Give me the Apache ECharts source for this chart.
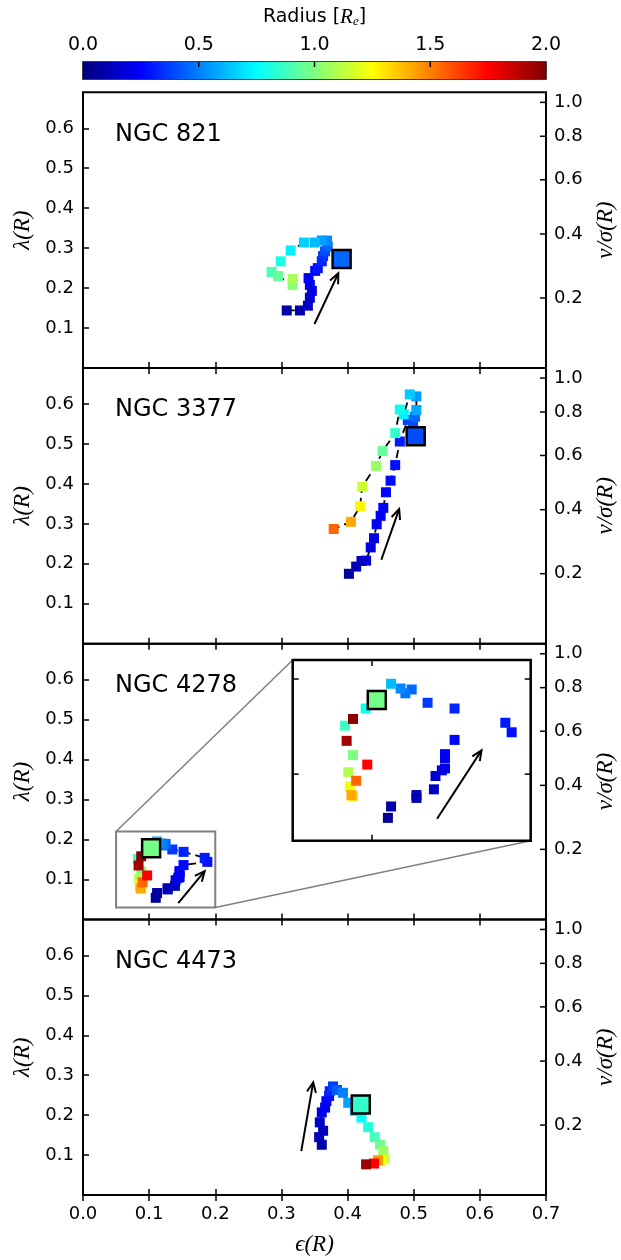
<!DOCTYPE html>
<html><head><meta charset="utf-8">
<script src="https://cdn.jsdelivr.net/npm/echarts@6/dist/echarts.min.js"></script>
<style>html,body{margin:0;padding:0;background:#fff}#c{width:621px;height:1260px}</style>
</head><body><div id="c"></div>
<script>
// ---------- data ----------
const galaxies = ['NGC 821', 'NGC 3377', 'NGC 4278', 'NGC 4473'];
const xTicks = [0, 0.1, 0.2, 0.3, 0.4, 0.5, 0.6, 0.7];
const lamTicks = [0.1, 0.2, 0.3, 0.4, 0.5, 0.6];
const vsTicks = [0.2, 0.4, 0.6, 0.8, 1.0];
const cbTicks = [0, 0.5, 1.0, 1.5, 2.0];
const KAPPA = 0.89;

const n821Eps = [0.308,0.328,0.340,0.343,0.346,0.343,0.341,0.351,0.355,0.361,0.363,0.366,0.370,0.369,0.361,0.350,0.334,0.314,0.299,0.285,0.295,0.317,0.317];
const n821Lam = [0.144,0.144,0.156,0.176,0.193,0.208,0.225,0.243,0.250,0.267,0.280,0.292,0.304,0.319,0.319,0.314,0.314,0.294,0.267,0.240,0.230,0.208,0.223];
const n821Rad = [0.08,0.10,0.13,0.16,0.19,0.21,0.23,0.26,0.29,0.32,0.35,0.40,0.45,0.52,0.56,0.62,0.66,0.72,0.80,0.90,0.95,1.02,1.08];

const n3377Eps = [0.402,0.413,0.421,0.428,0.435,0.440,0.444,0.450,0.454,0.458,0.465,0.472,0.479,0.491,0.499,0.502,0.504,0.504,0.494,0.485,0.479,0.472,0.453,0.443,0.422,0.419,0.405,0.379];
const n3377Lam = [0.175,0.193,0.207,0.208,0.241,0.264,0.299,0.320,0.340,0.379,0.408,0.447,0.506,0.560,0.548,0.568,0.585,0.619,0.624,0.574,0.586,0.527,0.482,0.445,0.393,0.344,0.305,0.287];
const n3377Rad = [0.06,0.10,0.13,0.15,0.18,0.20,0.22,0.24,0.25,0.26,0.27,0.28,0.30,0.38,0.40,0.45,0.58,0.55,0.65,0.72,0.78,0.85,0.95,1.05,1.15,1.27,1.42,1.55];

const n4278Eps = [0.110,0.112,0.128,0.128,0.139,0.140,0.144,0.146,0.146,0.146,0.152,0.188,0.184,0.152,0.135,0.125,0.121,0.118,0.112,0.096,0.083,0.088,0.085,0.086,0.088,0.087,0.090,0.097,0.084,0.088];
const n4278Lam = [0.054,0.066,0.075,0.078,0.084,0.098,0.104,0.106,0.117,0.121,0.136,0.144,0.154,0.169,0.175,0.189,0.185,0.190,0.195,0.169,0.151,0.120,0.102,0.087,0.077,0.078,0.093,0.110,0.135,0.158];
const n4278Rad = [0.05,0.08,0.10,0.11,0.13,0.16,0.19,0.20,0.22,0.24,0.26,0.28,0.30,0.32,0.36,0.45,0.48,0.52,0.62,0.78,0.87,1.00,1.10,1.22,1.30,1.42,1.55,1.75,1.93,1.97];

const n4473Eps = [0.361,0.357,0.363,0.358,0.361,0.366,0.368,0.372,0.373,0.378,0.384,0.393,0.401,0.411,0.421,0.431,0.441,0.449,0.454,0.456,0.451,0.446,0.440,0.428];
const n4473Lam = [0.126,0.145,0.161,0.182,0.207,0.219,0.235,0.248,0.260,0.272,0.263,0.256,0.231,0.211,0.194,0.170,0.145,0.126,0.110,0.092,0.085,0.087,0.079,0.077];
const n4473Rad = [0.08,0.10,0.12,0.15,0.20,0.22,0.25,0.28,0.32,0.37,0.43,0.50,0.57,0.68,0.75,0.82,0.88,0.97,1.05,1.12,1.25,1.45,1.75,1.95];

// large squares (global values)
const bigEps = [0.391, 0.503, 0.103, 0.420];
const bigLam = [0.273, 0.519, 0.178, 0.227];
const bigRad = [0.45, 0.40, 0.98, 0.85];

// arrows (data coords)
const arrowTail = [[0.350,0.110],[0.451,0.210],[0.144,0.041],[0.330,0.110]];
const arrowHead = [[0.386,0.237],[0.478,0.337],[0.184,0.121],[0.348,0.282]];
const insetArrowTail = [0.141,0.053];
const insetArrowHead = [0.169,0.125];

// inset (NGC 4278 zoom)
const insetX = [0.05, 0.20];
const insetY = [0.03, 0.22];
const insetXTicks = [0.1];
const insetYTicks = [0.1, 0.2];

const epsArr = [n821Eps, n3377Eps, n4278Eps, n4473Eps];
const lamArr = [n821Lam, n3377Lam, n4278Lam, n4473Lam];
const radArr = [n821Rad, n3377Rad, n4278Rad, n4473Rad];

// ---------- layout ----------
const jet = ['#00007f','#0000ff','#007fff','#00ffff','#7fff7f','#ffff00','#ff7f00','#ff0000','#7f0000'];
const GL = 83, GW = 463, GT0 = 92.3, GH = 275.7;
const XR = [0, 0.7], YR = [0, 0.69];
const tickFont = {fontFamily:'DejaVu Sans', fontSize:18, color:'#000'};
const mathFont = {fontFamily:'Liberation Serif', fontStyle:'italic', fontSize:23, color:'#000'};
const lam2vs = l => l / (KAPPA * Math.sqrt(1 - l*l));
const vs2lam = v => KAPPA*v / Math.sqrt(1 + KAPPA*KAPPA*v*v);
const vsLam = vsTicks.map(vs2lam);
const isTenth = v => Math.abs(v*10 - Math.round(v*10)) < 1e-6;

const grids = [], xAxes = [], yAxes = [], series = [], scatterIdx = [];
const zip = (e, l, r) => e.map((v, i) => r ? [v, l[i], r[i]] : [v, l[i]]);

function arrowRender(params, api) {
  const p0 = api.coord([api.value(0), api.value(1)]);
  const p1 = api.coord([api.value(2), api.value(3)]);
  const ang = Math.atan2(p1[1]-p0[1], p1[0]-p0[0]);
  const L = 11, a = 0.42;
  const h1 = [p1[0]-L*Math.cos(ang-a), p1[1]-L*Math.sin(ang-a)];
  const h2 = [p1[0]-L*Math.cos(ang+a), p1[1]-L*Math.sin(ang+a)];
  return {type:'group', children:[
    {type:'line', shape:{x1:p0[0],y1:p0[1],x2:p1[0],y2:p1[1]}, style:{stroke:'#000', lineWidth:2}},
    {type:'polyline', shape:{points:[h1,p1,h2]}, style:{stroke:'#000', lineWidth:2, fill:null}}
  ]};
}

// inward ticks drawn through the axes' own scales
function tickSeries(xi, yi, xr, yr, spec, len) {
  return {type:'custom', xAxisIndex:xi, yAxisIndex:yi, silent:true, z:6, data:[[xr[0], yr[0]]],
    renderItem:(p, api) => {
      const ch = [];
      const ln = (x1,y1,x2,y2) => ch.push({type:'line', shape:{x1,y1,x2,y2}, style:{stroke:'#000', lineWidth:1.5}});
      (spec.bottom||[]).forEach(v => { const q = api.coord([v, yr[0]]); ln(q[0], q[1], q[0], q[1]-len); });
      (spec.top||[]).forEach(v => { const q = api.coord([v, yr[1]]); ln(q[0], q[1], q[0], q[1]+len); });
      (spec.left||[]).forEach(v => { const q = api.coord([xr[0], v]); ln(q[0], q[1], q[0]+len, q[1]); });
      (spec.right||[]).forEach(v => { const q = api.coord([xr[1], v]); ln(q[0], q[1], q[0]-len, q[1]); });
      return {type:'group', children:ch};
    }};
}

function addPanelSeries(xi, yi, e, l, r, bi, tail, head) {
  series.push({type:'line', xAxisIndex:xi, yAxisIndex:yi, data:zip(e,l), symbol:'none', silent:true, z:2,
    lineStyle:{color:'#000', width:1.8, type:[8,5]}});
  scatterIdx.push(series.length);
  series.push({type:'scatter', xAxisIndex:xi, yAxisIndex:yi, data:zip(e,l,r), symbol:'rect', symbolSize:10, z:3,
    itemStyle:{opacity:1}});
  scatterIdx.push(series.length);
  series.push({type:'scatter', xAxisIndex:xi, yAxisIndex:yi, data:[[bigEps[bi], bigLam[bi], bigRad[bi]]], symbol:'rect', symbolSize:18, z:4,
    itemStyle:{opacity:1, borderColor:'#000', borderWidth:2.5}});
  series.push({type:'custom', xAxisIndex:xi, yAxisIndex:yi, data:[[tail[0],tail[1],head[0],head[1]]], renderItem:arrowRender, z:5, silent:true});
}

for (let i = 0; i < 4; i++) {
  grids.push({left:GL, width:GW, top:GT0 + i*GH, height:GH, show:true, borderColor:'#000', borderWidth:2,
    backgroundColor:'transparent', containLabel:false, outerBoundsMode:'none'});
  const tick = {show:true, inside:true, length:6, lineStyle:{color:'#000', width:1.5}};
  xAxes.push({type:'value', gridIndex:i, min:XR[0], max:XR[1], interval:0.1, position:'bottom',
    axisLine:{show:false}, splitLine:{show:false}, axisTick:tick,
    axisLabel:{show:i===3, margin:10, ...tickFont, formatter:v => v.toFixed(1)},
    name: i===3 ? 'ϵ(R)' : '', nameLocation:'middle', nameGap:38, nameTextStyle:mathFont});
  xAxes.push({type:'value', gridIndex:i, min:XR[0], max:XR[1], interval:0.1, position:'top',
    axisLine:{show:false}, splitLine:{show:false}, axisTick:tick, axisLabel:{show:false}});
  yAxes.push({type:'value', gridIndex:i, min:YR[0], max:YR[1], interval:0.1, position:'left',
    axisLine:{show:false}, splitLine:{show:false}, axisTick:tick,
    axisLabel:{margin:9, ...tickFont, showMinLabel:false, showMaxLabel:false,
      formatter:v => (v > 0.05 && isTenth(v) && lamTicks.some(t => Math.abs(t - v) < 1e-6)) ? v.toFixed(1) : ''},
    name:'λ(R)', nameLocation:'middle', nameGap:48, nameRotate:90, nameTextStyle:mathFont});
  yAxes.push({type:'value', gridIndex:i, min:YR[0], max:YR[1], position:'right',
    axisLine:{show:false}, splitLine:{show:false}, axisTick:{show:false},
    axisLabel:{margin:8, ...tickFont, customValues:vsLam, formatter:v => lam2vs(v).toFixed(1)},
    name:'v/σ(R)', nameLocation:'middle', nameGap:48, nameRotate:90, nameTextStyle:mathFont});
  addPanelSeries(2*i, 2*i, epsArr[i], lamArr[i], radArr[i], i, arrowTail[i], arrowHead[i]);
  series.push(tickSeries(2*i, 2*i, XR, YR, {right:vsLam}, 6));
}

// zoom box in NGC 4278 panel
series.push({type:'custom', xAxisIndex:4, yAxisIndex:4, silent:true, z:1,
  data:[[insetX[0], insetY[0], insetX[1], insetY[1]]],
  renderItem:(p, api) => {
    const a = api.coord([api.value(0), api.value(1)]), b = api.coord([api.value(2), api.value(3)]);
    return {type:'rect', shape:{x:a[0], y:b[1], width:b[0]-a[0], height:a[1]-b[1]}, style:{stroke:'#808080', lineWidth:2, fill:null}};
  }});

// inset grid (index 4)
grids.push({left:292.7, top:660, width:238, height:180.7, show:true, borderColor:'#000', borderWidth:2.5,
  backgroundColor:'#fff', z:3, containLabel:false, outerBoundsMode:'none'});
['bottom','top'].forEach(pos => xAxes.push({type:'value', gridIndex:4, min:insetX[0], max:insetX[1], position:pos,
  axisLine:{show:false}, splitLine:{show:false}, axisTick:{show:false}, axisLabel:{show:false}}));
['left','right'].forEach(pos => yAxes.push({type:'value', gridIndex:4, min:insetY[0], max:insetY[1], position:pos,
  axisLine:{show:false}, splitLine:{show:false}, axisTick:{show:false}, axisLabel:{show:false}}));
addPanelSeries(8, 8, n4278Eps, n4278Lam, n4278Rad, 2, insetArrowTail, insetArrowHead);
series.push(tickSeries(8, 8, insetX, insetY, {bottom:insetXTicks, top:insetXTicks, left:insetYTicks, right:insetYTicks}, 6));

// colorbar grid (index 5)
grids.push({left:GL, width:GW, top:62, height:17, show:true, borderColor:'#000', borderWidth:1.5,
  containLabel:false, outerBoundsMode:'none'});
xAxes.push({type:'value', gridIndex:5, min:0, max:2, interval:0.5, position:'top',
  axisLine:{show:false}, splitLine:{show:false}, axisTick:{show:false},
  axisLabel:{margin:7, ...tickFont, fontSize:19, formatter:v => v.toFixed(1)},
  name:'Radius [{i|R}{s|e}]', nameLocation:'middle', nameGap:34,
  nameTextStyle:{fontFamily:'DejaVu Sans', fontSize:19, color:'#000',
    rich:{i:{fontFamily:'Liberation Serif', fontStyle:'italic', fontSize:21, color:'#000'},
          s:{fontFamily:'Liberation Serif', fontStyle:'italic', fontSize:13, color:'#000', verticalAlign:'bottom', padding:[9,0,0,0]}}}});
yAxes.push({type:'value', gridIndex:5, min:0, max:1, show:false});
series.push({type:'custom', xAxisIndex:10, yAxisIndex:10, silent:true, z:1, data:[[cbTicks[0], cbTicks[cbTicks.length-1]]],
  renderItem:(p, api) => {
    const a = api.coord([api.value(0), 0]), b = api.coord([api.value(1), 1]);
    const stops = jet.map((c, k) => ({offset:k/(jet.length-1), color:c}));
    return {type:'rect', shape:{x:a[0], y:b[1], width:b[0]-a[0], height:a[1]-b[1]},
      style:{fill:new echarts.graphic.LinearGradient(0,0,1,0,stops)}};
  }});
series.push(tickSeries(10, 10, [0, 2], [0, 1], {top:cbTicks.slice(1, -1)}, 5));

const chart = echarts.init(document.getElementById('c'), null, {renderer:'canvas'});
chart.setOption({
  animation:false,
  backgroundColor:'#fff',
  title: galaxies.map((g, i) => ({text:g, left:115, top:GT0 + i*GH + 30, padding:0,
    textStyle:{fontFamily:'DejaVu Sans', fontSize:24, fontWeight:'normal', color:'#000'}})),
  grid:grids, xAxis:xAxes, yAxis:yAxes,
  visualMap:{type:'continuous', show:false, min:0, max:2, dimension:2, seriesIndex:scatterIdx, inRange:{color:jet}},
  series:series
});

// connector lines between zoom box and inset
const f0 = {xAxisIndex:4, yAxisIndex:4}, f1 = {xAxisIndex:8, yAxisIndex:8};
const a0 = chart.convertToPixel(f0, [insetX[0], insetY[1]]), a1 = chart.convertToPixel(f1, [insetX[0], insetY[1]]);
const b0 = chart.convertToPixel(f0, [insetX[1], insetY[0]]), b1 = chart.convertToPixel(f1, [insetX[1], insetY[0]]);
chart.setOption({graphic:[
  {type:'line', shape:{x1:a0[0], y1:a0[1], x2:a1[0], y2:a1[1]}, style:{stroke:'#808080', lineWidth:1.5}, silent:true, z:0},
  {type:'line', shape:{x1:b0[0], y1:b0[1], x2:b1[0], y2:b1[1]}, style:{stroke:'#808080', lineWidth:1.5}, silent:true, z:0}
]});
</script>
</body></html>
